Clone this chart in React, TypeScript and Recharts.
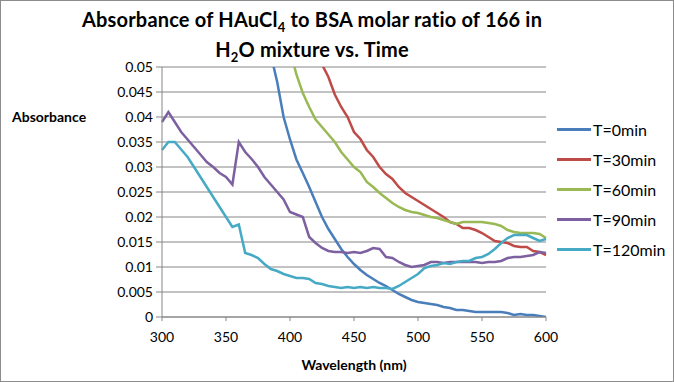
import { CartesianGrid, Line, LineChart, XAxis, YAxis } from "recharts";

// Absorbance spectra of HAuCl4 / BSA (ratio 166) in water, one trace per time point
const wavelengths = [
  300, 305, 310, 315, 320, 325, 330, 335, 340, 345, 350, 355, 360, 365, 370, 375, 380, 385, 390, 395,
  400, 405, 410, 415, 420, 425, 430, 435, 440, 445, 450, 455, 460, 465, 470, 475, 480, 485, 490, 495,
  500, 505, 510, 515, 520, 525, 530, 535, 540, 545, 550, 555, 560, 565, 570, 575, 580, 585, 590, 595, 600,
];

const t0 = [
  null, null, null, null, null, null, null, null, null, null, null, null, null, null, null, null,
  0.058, 0.0525, 0.047, 0.04, 0.0355, 0.0315, 0.0288, 0.026, 0.023, 0.02, 0.0176, 0.0156, 0.0136, 0.012,
  0.0106, 0.0094, 0.0084, 0.0076, 0.0068, 0.0062, 0.0054, 0.0046, 0.004, 0.0034, 0.003, 0.0028, 0.0026,
  0.0024, 0.002, 0.0018, 0.0014, 0.0014, 0.0012, 0.001, 0.001, 0.001, 0.001, 0.001, 0.0008, 0.0004,
  0.0006, 0.0004, 0.0004, 0.0002, 0,
];

const t30 = [
  null, null, null, null, null, null, null, null, null, null, null, null, null, null, null, null, null,
  null, null, null, null, null, null,
  0.058, 0.054, 0.0505, 0.048, 0.0445, 0.042, 0.04, 0.037, 0.0356, 0.0334, 0.032, 0.03, 0.0286, 0.0276,
  0.026, 0.0248, 0.024, 0.0232, 0.0224, 0.0216, 0.0208, 0.02, 0.019, 0.0186, 0.0178, 0.0178, 0.0174,
  0.0168, 0.016, 0.0152, 0.015, 0.0148, 0.0142, 0.014, 0.014, 0.0132, 0.013, 0.0124,
];

const t60 = [
  null, null, null, null, null, null, null, null, null, null, null, null, null, null, null, null, null,
  null, null,
  0.058, 0.0535, 0.0485, 0.0448, 0.042, 0.0395, 0.038, 0.0365, 0.035, 0.033, 0.0315, 0.03, 0.029, 0.027,
  0.026, 0.0248, 0.0238, 0.0228, 0.022, 0.0214, 0.021, 0.0208, 0.0204, 0.02, 0.0198, 0.0194, 0.019,
  0.0186, 0.019, 0.019, 0.019, 0.019, 0.0188, 0.0186, 0.0182, 0.0174, 0.017, 0.0168, 0.0168, 0.0168,
  0.0166, 0.0158,
];

const t90 = [
  0.039, 0.041, 0.039, 0.037, 0.0355, 0.034, 0.0325, 0.031, 0.03, 0.0288, 0.028, 0.0265, 0.035, 0.033,
  0.0316, 0.03, 0.028, 0.0265, 0.025, 0.0235, 0.021, 0.0205, 0.02, 0.016, 0.0148, 0.0138, 0.0132, 0.013,
  0.013, 0.0128, 0.013, 0.0128, 0.0132, 0.0138, 0.0136, 0.012, 0.0118, 0.011, 0.0104, 0.01, 0.0102,
  0.0104, 0.011, 0.011, 0.0108, 0.011, 0.011, 0.011, 0.011, 0.011, 0.0108, 0.011, 0.011, 0.0112, 0.0118,
  0.012, 0.012, 0.0122, 0.0124, 0.013, 0.0128,
];

const t120 = [
  0.0334, 0.035, 0.035, 0.0335, 0.032, 0.03, 0.028, 0.026, 0.024, 0.022, 0.02, 0.018, 0.0185, 0.0128,
  0.0124, 0.0118, 0.0106, 0.0096, 0.0092, 0.0086, 0.0082, 0.0078, 0.0078, 0.0076, 0.0068, 0.0066, 0.0062,
  0.006, 0.0058, 0.006, 0.0058, 0.006, 0.0058, 0.006, 0.0058, 0.0058, 0.0056, 0.0062, 0.007, 0.0078,
  0.0086, 0.0098, 0.0102, 0.0104, 0.0108, 0.0106, 0.011, 0.0112, 0.0112, 0.0118, 0.012, 0.0126, 0.0136,
  0.0148, 0.0158, 0.0164, 0.0164, 0.0164, 0.0158, 0.0152, 0.0156,
];

const seriesNames = ["T=0min", "T=30min", "T=60min", "T=90min", "T=120min"];
const seriesColors = ["#4a7ebb", "#be4b48", "#98b954", "#7d60a0", "#46aac5"];
const seriesValues = [t0, t30, t60, t90, t120];

const xTicks = [300, 350, 400, 450, 500, 550, 600];
const yTicks = [0, 0.005, 0.01, 0.015, 0.02, 0.025, 0.03, 0.035, 0.04, 0.045, 0.05];

const data = wavelengths.map((wl, i) => {
  const row: Record<string, number | null> = { wl };
  seriesValues.forEach((vals, s) => (row[`s${s}`] = vals[i]));
  return row;
});

const FONT = "Lato, 'Liberation Sans', sans-serif";
const GRID = "#868686";
const subStyle = { fontSize: 13, lineHeight: 0 };

export default function App() {
  return (
    <div style={{ position: "absolute", left: 0, top: 0, width: 674, height: 382, background: "#fff", fontFamily: FONT }}>
      <LineChart width={674} height={382} data={data} margin={{ top: 67, right: 128, bottom: 35, left: 0 }}>
        <CartesianGrid stroke={GRID} vertical={false} />
        <XAxis
          dataKey="wl"
          type="number"
          domain={[300, 600]}
          ticks={xTicks}
          height={30}
          stroke={GRID}
          tickSize={4}
          tickMargin={11}
          tick={{ fill: "#000", fontSize: 14, fontFamily: FONT }}
        />
        <YAxis
          domain={[0, 0.05]}
          ticks={yTicks}
          allowDataOverflow
          width={162}
          stroke={GRID}
          tickSize={6}
          tickMargin={3}
          tick={{ fill: "#000", fontSize: 14, fontFamily: FONT }}
        />
        {seriesNames.map((name, s) => (
          <Line
            key={name}
            name={name}
            dataKey={`s${s}`}
            stroke={seriesColors[s]}
            strokeWidth={2.5}
            dot={false}
            type="linear"
            isAnimationActive={false}
          />
        ))}
      </LineChart>

      <div style={{ position: "absolute", left: 0, width: 624, top: 4, textAlign: "center", fontWeight: 700, fontSize: 20, lineHeight: "30px", letterSpacing: 0.2 }}>
        <div>
          Absorbance of HAuCl<sub style={subStyle}>4</sub> to BSA molar ratio of 166 in
        </div>
        <div>
          H<sub style={subStyle}>2</sub>O mixture vs. Time
        </div>
      </div>

      <div style={{ position: "absolute", left: 12, top: 108, fontWeight: 700, fontSize: 14 }}>Absorbance</div>
      <div style={{ position: "absolute", left: 162, width: 384, top: 356, textAlign: "center", fontWeight: 700, fontSize: 14 }}>
        Wavelength (nm)
      </div>

      {seriesNames.map((name, s) => (
        <div key={name} style={{ position: "absolute", left: 557, top: 120 + s * 30, display: "flex", alignItems: "center", fontSize: 16 }}>
          <span style={{ display: "inline-block", width: 34, height: 3, background: seriesColors[s], marginRight: 2 }} />
          {name}
        </div>
      ))}

      <div style={{ position: "absolute", inset: 0, border: "1px solid #8c8c8c", pointerEvents: "none" }} />
    </div>
  );
}
